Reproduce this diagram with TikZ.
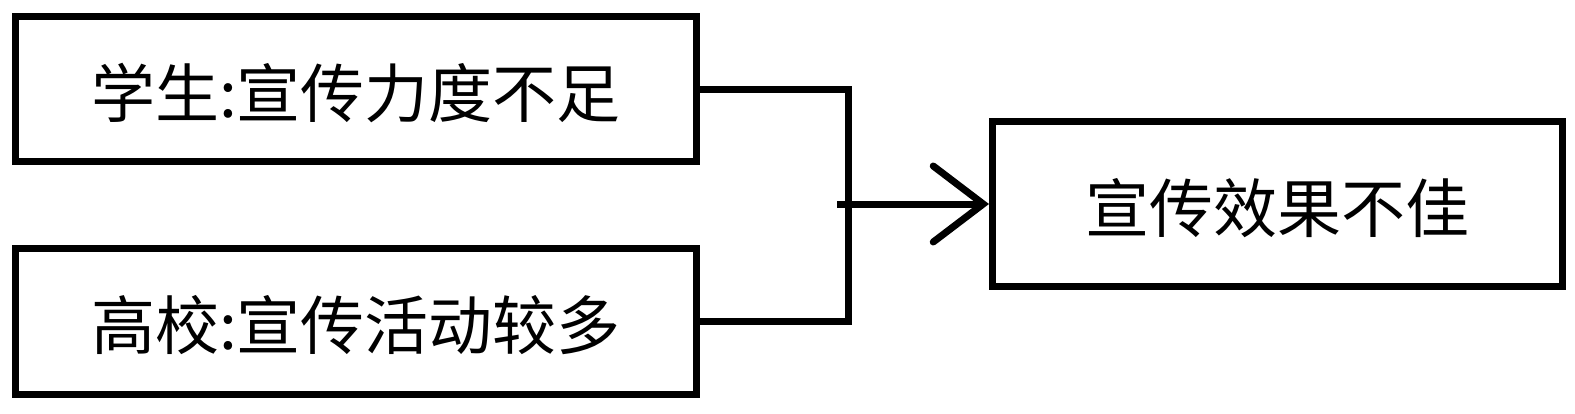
\documentclass[tikz,border=0pt]{standalone}
\usepackage{fontspec}
\newfontfamily\cjk{Noto Sans CJK SC}
\usetikzlibrary{arrows.meta}
\newcommand{\lowtxt}[1]{\raisebox{-4pt}[\height][\depth]{#1}}
\begin{document}
\begin{tikzpicture}[x=1pt,y=-1pt,
  box/.style={draw=black,line width=7pt,inner sep=0pt,line join=miter,
    font=\cjk\fontsize{64pt}{72pt}\selectfont},
  link/.style={draw=black,line width=7pt,line join=miter},
  arr/.style={link,-{Straight Barb[length=50pt,width=76pt,line cap=round]}}]
\useasboundingbox (0,0) rectangle (1575,413);
\node[box,minimum width=681pt,minimum height=145pt] (b1) at (356,89) {\lowtxt{学生:宣传力度不足}};
\node[box,minimum width=681pt,minimum height=146pt] (b2) at (356,321.5) {\lowtxt{高校:宣传活动较多}};
\node[box,minimum width=570pt,minimum height=165pt] (b3) at (1277.5,204) {\lowtxt{宣传效果不佳}};
\coordinate (j) at (848,204);
\coordinate (s) at (837,204);
\draw[link] (b1.east) -| (j) |- (b2.east);
\draw[arr] (s) -- (b3.west);
\end{tikzpicture}
\end{document}
